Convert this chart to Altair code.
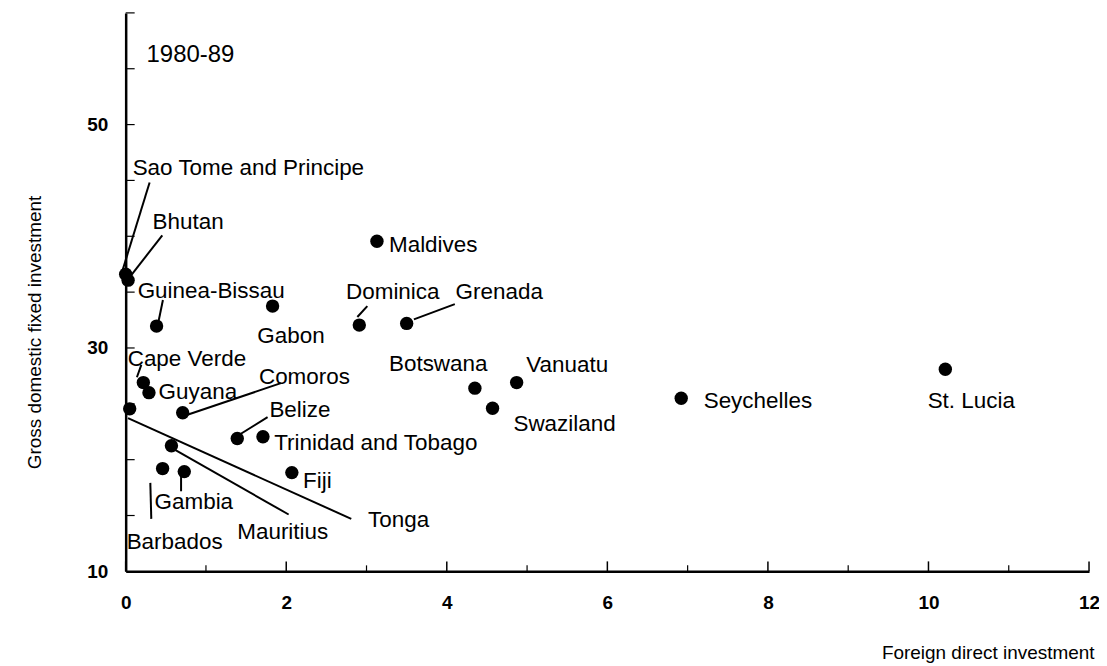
import altair as alt
import pandas as pd

# ---- data ----
countries = ["Sao Tome and Principe", "Bhutan", "Guinea-Bissau", "Gabon", "Maldives",
             "Dominica", "Grenada", "Botswana", "Vanuatu", "Swaziland", "Seychelles",
             "St. Lucia", "Cape Verde", "Guyana", "Tonga", "Comoros", "Mauritius",
             "Belize", "Trinidad and Tobago", "Fiji", "Barbados", "Gambia"]
fdi = [0.00, 0.03, 0.385, 1.83, 3.13, 2.91, 3.50, 4.35, 4.87, 4.57, 6.92,
       10.21, 0.22, 0.29, 0.05, 0.71, 0.57, 1.39, 1.71, 2.07, 0.46, 0.73]
gdfi = [36.6, 36.07, 31.96, 33.75, 39.55, 32.05, 32.2, 26.4, 26.9, 24.6, 25.5,
        28.1, 26.9, 26.0, 24.55, 24.2, 21.25, 21.9, 22.05, 18.84, 19.2, 18.93]

# label anchors (left edge, vertical centre) in data units
label_x = [0.087, 0.335, 0.149, 1.64, 3.28, 2.745, 4.11, 3.28, 4.99, 4.83, 7.2,
           9.99, 0.025, 0.41, 3.02, 1.66, 1.39, 1.79, 1.85, 2.21, 0.012, 0.36]
label_y = [46.07, 41.25, 35.1, 31.07, 39.2, 35.0, 35.0, 28.57, 28.5, 23.2, 25.27,
           25.27, 29.0, 26.07, 14.64, 27.4, 13.48, 24.46, 21.5, 18.1, 12.6, 16.25]

# leader lines (label end -> point end) in data units
leader_names = ["Sao Tome and Principe", "Bhutan", "Guinea-Bissau", "Dominica", "Grenada",
                "Cape Verde", "Comoros", "Belize", "Gambia", "Barbados", "Tonga", "Mauritius"]
leader_x1 = [0.298, 0.456, 0.464, 3.01, 4.10, 0.195, 1.934, 1.768, 0.69, 0.307, 0.029, 0.61]
leader_y1 = [44.82, 40.09, 34.29, 33.75, 33.93, 28.48, 26.85, 23.81, 18.5, 17.92, 23.72, 20.89]
leader_x2 = [-0.05, 0.07, 0.40, 2.886, 3.59, 0.14, 0.733, 1.395, 0.69, 0.319, 2.81, 2.03]
leader_y2 = [36.7, 36.52, 32.05, 32.77, 32.56, 27.38, 23.93, 22.14, 17.17, 14.7, 14.7, 15.09]

period_label = ["1980-89"]
period_x = [0.26]
period_y = [56.2]

x_major = [0, 2, 4, 6, 8, 10, 12]
x_minor = [1, 3, 5, 7, 9, 11]
y_ticks = [15, 20, 25, 30, 35, 40, 45, 50, 55, 60]
y_labels = [10, 30, 50]

FONT = "Liberation Sans"
W, H = 966, 560

pts = pd.DataFrame({"country": countries, "fdi": fdi, "gdfi": gdfi})
labs = pd.DataFrame({"text": countries, "lx": label_x, "ly": label_y})
leads = pd.DataFrame({"name": leader_names, "x1": leader_x1, "y1": leader_y1,
                      "x2": leader_x2, "y2": leader_y2})
per = pd.DataFrame({"text": period_label, "px": period_x, "py": period_y})
xmaj = pd.DataFrame({"t": x_major})
xmin = pd.DataFrame({"t": x_minor})
yt = pd.DataFrame({"t": y_ticks})

xs = alt.Scale(domain=[0, 12], nice=False, zero=False)
ys = alt.Scale(domain=[10, 60], nice=False, zero=False)

xaxis = alt.Axis(
    values=x_major, title="Foreign direct investment", ticks=False, grid=False,
    domainColor="black", domainWidth=2.5, labelFont=FONT, labelFontSize=19,
    labelFontWeight="bold", labelColor="black", labelPadding=22, labelFlush=False,
    titleFont=FONT, titleFontSize=19, titleFontWeight="normal", titleColor="black",
    titleX=971, titleY=81, titleAlign="right", titleBaseline="middle")
yaxis = alt.Axis(
    values=y_labels, title="Gross domestic fixed investment", ticks=False, grid=False,
    domainColor="black", domainWidth=2.5, labelFont=FONT, labelFontSize=19,
    labelFontWeight="bold", labelColor="black", labelPadding=18, labelFlush=False,
    titleFont=FONT, titleFontSize=19, titleFontWeight="normal", titleColor="black",
    titleAngle=270, titleX=-91, titleY=320, titleAlign="center",
    titleBaseline="middle")

points = alt.Chart(pts).mark_circle(size=180, color="black", opacity=1).encode(
    x=alt.X("fdi:Q", scale=xs, axis=xaxis),
    y=alt.Y("gdfi:Q", scale=ys, axis=yaxis),
)

labels = alt.Chart(labs).mark_text(
    align="left", baseline="middle", font=FONT, fontSize=22.5, color="black"
).encode(
    x=alt.X("lx:Q", scale=xs, axis=xaxis),
    y=alt.Y("ly:Q", scale=ys, axis=yaxis),
    text="text:N",
)

leaders = alt.Chart(leads).mark_rule(color="black", strokeWidth=2).encode(
    x=alt.X("x1:Q", scale=xs, axis=xaxis),
    y=alt.Y("y1:Q", scale=ys, axis=yaxis),
    x2="x2:Q",
    y2="y2:Q",
)

period = alt.Chart(per).mark_text(
    align="left", baseline="middle", font=FONT, fontSize=24, color="black"
).encode(
    x=alt.X("px:Q", scale=xs, axis=xaxis),
    y=alt.Y("py:Q", scale=ys, axis=yaxis),
    text="text:N",
)

xmaj_ticks = alt.Chart(xmaj).mark_rule(color="black", strokeWidth=1.5).encode(
    x=alt.X("t:Q", scale=xs, axis=xaxis),
    y=alt.value(H), y2=alt.value(H - 10),
)
xmin_ticks = alt.Chart(xmin).mark_rule(color="black", strokeWidth=1.2).encode(
    x=alt.X("t:Q", scale=xs, axis=xaxis),
    y=alt.value(H), y2=alt.value(H - 6),
)
y_tick_marks = alt.Chart(yt).mark_rule(color="black", strokeWidth=1.2).encode(
    y=alt.Y("t:Q", scale=ys, axis=yaxis),
    x=alt.value(0), x2=alt.value(9),
)

chart = alt.layer(
    points, leaders, labels, period, xmaj_ticks, xmin_ticks, y_tick_marks
).properties(
    width=W, height=H,
    autosize=alt.AutoSizeParams(type="none"),
    padding={"left": 118, "top": 4, "right": 10, "bottom": 94},
    background="white",
).configure_view(stroke=None)

chart.save("out.html", embed_options={"renderer": "svg", "actions": False})
